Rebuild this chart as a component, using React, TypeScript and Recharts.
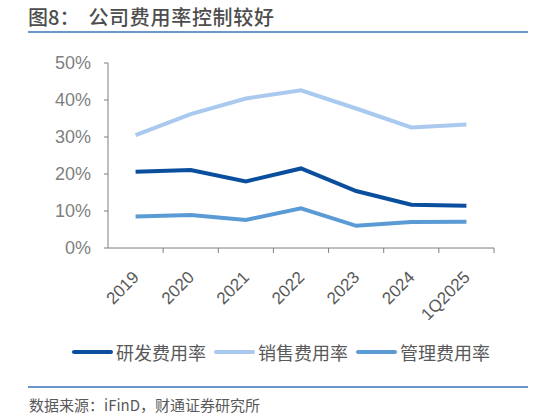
import React from "react";
import { LineChart, Line, XAxis, YAxis } from "recharts";

// 年份 / 季度
const years = ["2019", "2020", "2021", "2022", "2023", "2024", "1Q2025"];

// 费用率（%）
const rdRate = [20.6, 21.1, 18.0, 21.5, 15.4, 11.7, 11.4];
const salesRate = [30.5, 36.2, 40.4, 42.6, 37.7, 32.6, 33.4];
const adminRate = [8.5, 8.9, 7.6, 10.7, 6.0, 7.0, 7.1];

const yTicks = [0, 10, 20, 30, 40, 50];

const series = [
  { key: "rd", name: "研发费用率", color: "#0a4f9e" },
  { key: "sales", name: "销售费用率", color: "#a9c9ef" },
  { key: "admin", name: "管理费用率", color: "#5b9bd5" },
];

const data = years.map((y, i) => ({
  year: y,
  rd: rdRate[i],
  sales: salesRate[i],
  admin: adminRate[i],
}));

const FONT = "'Liberation Sans', Arial, 'Noto Sans CJK SC', sans-serif";
const CJK = "'Noto Sans CJK SC', 'Liberation Sans', sans-serif";
const AXIS = "#7f7f7f";

// 分类宽度，用于把刻度线画在分类之间
const STEP = (494 - 108) / years.length;

const XTick = (props: any) => {
  const { x, y, payload } = props;
  return (
    <g>
      <line x1={x + STEP / 2} y1={y - 8} x2={x + STEP / 2} y2={y - 3} stroke={AXIS} strokeWidth={1} />
      <g transform={`translate(${x - 4}, ${y + 14}) rotate(-45)`}>
        <text x={0} y={0} dy="0.7em" textAnchor="end" fill="#595959" fontSize={17} fontFamily={FONT}>
          {payload.value}
        </text>
      </g>
    </g>
  );
};

export default function App() {
  return (
    <div style={{ position: "absolute", left: 0, top: 0, width: 533, height: 419, background: "#fff" }}>
      <div
        style={{
          position: "absolute",
          left: 28,
          top: 3,
          fontSize: 20,
          fontWeight: 500,
          color: "#4d4d4d",
          fontFamily: CJK,
          whiteSpace: "pre",
          lineHeight: "28px",
        }}
      >
        {"图8：  "}
        <span style={{ letterSpacing: 0.7 }}>公司费用率控制较好</span>
      </div>
      <div style={{ position: "absolute", left: 28, top: 31, width: 500, height: 2, background: "#6a97cc" }} />

      <div style={{ position: "absolute", left: 0, top: 0 }}>
        <LineChart width={533} height={330} data={data} margin={{ top: 63, right: 39, left: 0, bottom: 0 }}>
          <XAxis
            dataKey="year"
            height={82}
            stroke={AXIS}
            tickLine={false}
            interval={0}
            padding={{ left: STEP / 2, right: STEP / 2 }}
            tick={<XTick />}
          />
          <YAxis
            width={108}
            domain={[0, 50]}
            ticks={yTicks}
            stroke={AXIS}
            tickSize={4}
            tickMargin={13}
            tickFormatter={(v: number) => `${v}%`}
            tick={{ fill: "#7f7f7f", fontSize: 18, fontFamily: FONT }}
          />
          {series.map((s) => (
            <Line
              key={s.key}
              dataKey={s.key}
              name={s.name}
              stroke={s.color}
              strokeWidth={4}
              dot={false}
              isAnimationActive={false}
            />
          ))}
        </LineChart>
      </div>

      <div style={{ position: "absolute", left: 72, top: 338, display: "flex", alignItems: "center" }}>
        {series.map((s) => (
          <div key={s.key} style={{ display: "flex", alignItems: "center", width: 142 }}>
            <div style={{ width: 41, height: 4, borderRadius: 2, background: s.color }} />
            <span style={{ marginLeft: 3, fontSize: 18, color: "#595959", fontFamily: CJK, lineHeight: "28px" }}>
              {s.name}
            </span>
          </div>
        ))}
      </div>

      <div style={{ position: "absolute", left: 28, top: 386, width: 500, height: 2, background: "#6a97cc" }} />
      <div
        style={{
          position: "absolute",
          left: 29,
          top: 395,
          fontSize: 15,
          color: "#595959",
          fontFamily: CJK,
          lineHeight: "20px",
        }}
      >
        数据来源：iFinD，财通证券研究所
      </div>
    </div>
  );
}
